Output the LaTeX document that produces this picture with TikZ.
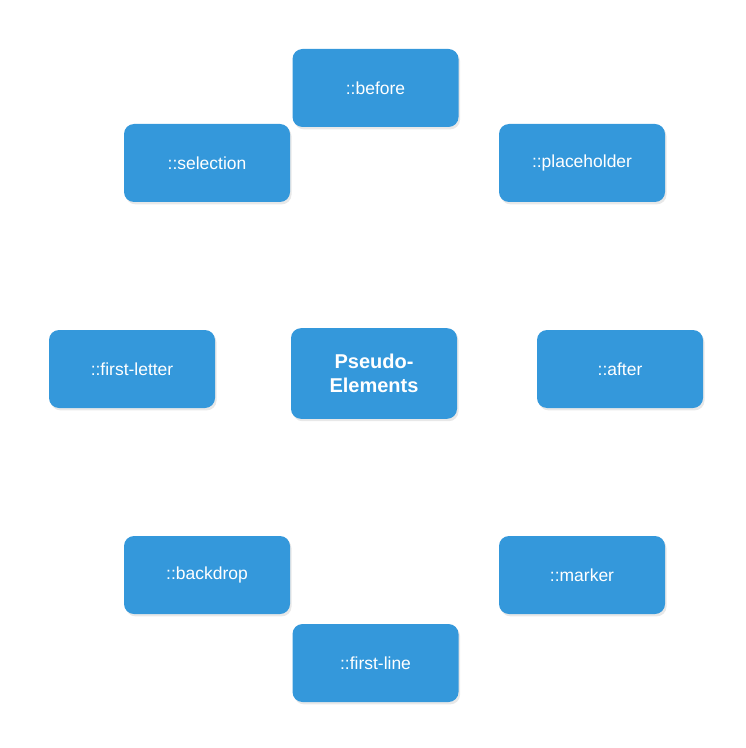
\documentclass[tikz,border=0pt]{standalone}
\usepackage{fontspec}
\setmainfont{Liberation Sans}
\usetikzlibrary{shadows}
\definecolor{boxblue}{HTML}{3498DB}
\tikzset{
  item/.style={draw=none, fill=boxblue, rounded corners=7.5pt, minimum width=124.5pt, minimum height=58.5pt,
    text=white, font=\fontsize{13.1}{15}\selectfont, inner sep=0pt,
    drop shadow={opacity=0.18, shadow xshift=1.2pt, shadow yshift=-1.8pt}},
  center/.style={item, minimum height=68pt, font=\bfseries\fontsize{15}{17.5}\selectfont, align=center}
}
\begin{document}
\begin{tikzpicture}[x=0.75pt,y=-0.75pt]
\useasboundingbox (0,0) rectangle (745,748);
\node[center] (pe) at (374,373.5) {Pseudo-\\Elements};
\node[item] (before) at (375.5,88) {::before};
\node[item] (selection) at (207,163) {::selection};
\node[item] (placeholder) at (582,163) {::placeholder};
\node[item] (firstletter) at (132,369) {::first-letter};
\node[item] (after) at (620,369) {::after};
\node[item] (backdrop) at (207,575) {::backdrop};
\node[item] (marker) at (582,575) {::marker};
\node[item] (firstline) at (375.5,663) {::first-line};
\end{tikzpicture}
\end{document}
